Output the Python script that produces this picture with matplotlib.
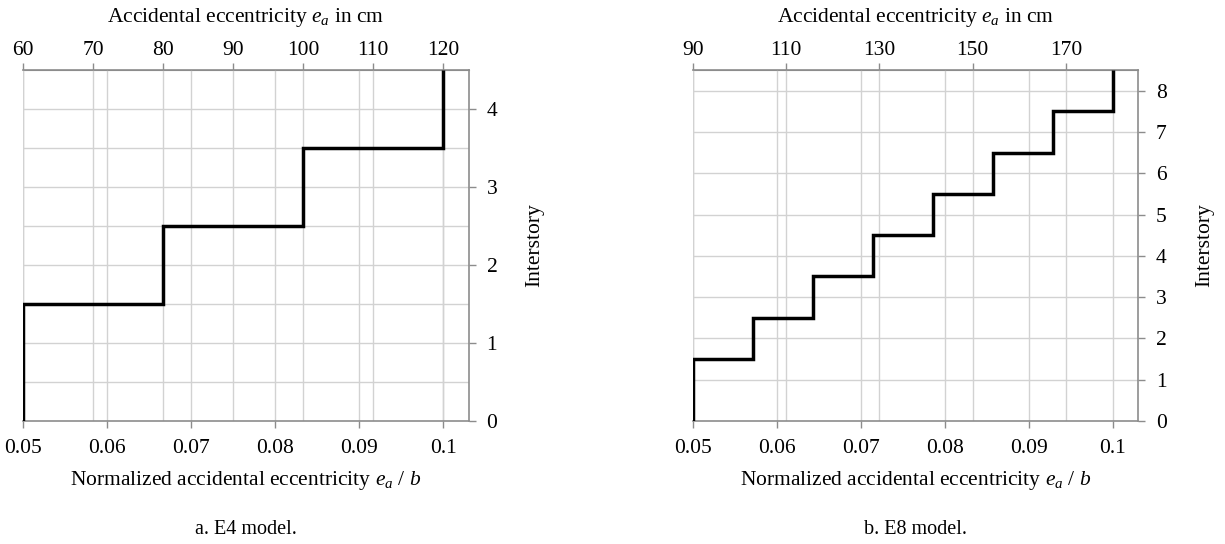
import numpy as np
import matplotlib.pyplot as plt
from matplotlib.ticker import MultipleLocator, FuncFormatter

plt.rcParams['font.family'] = ['Liberation Serif', 'DejaVu Serif']
plt.rcParams['mathtext.fontset'] = 'custom'
plt.rcParams['mathtext.rm'] = 'Liberation Serif'
plt.rcParams['mathtext.it'] = 'Liberation Serif:italic'

# ======================================================
# data: accidental eccentricity per interstory (cm)
# ======================================================
b_e4 = 1200.0   # plan dimension, cm
b_e8 = 1800.0
ecc_e4 = np.array([60, 80, 100, 120])
ecc_e8 = np.array([90, 102.9, 115.7, 128.6, 141.4, 154.3, 167.1, 180])

top_ticks_e4 = [60, 70, 80, 90, 100, 110, 120]
top_ticks_e8 = [90, 110, 130, 150, 170]
bottom_ticks = [0.05, 0.06, 0.07, 0.08, 0.09, 0.1]
captions = ["a. E4 model.", "b. E8 model."]

FS = 15.5
SPINE = '#8c8c8c'
GRID = '#d2d2d2'

fig = plt.figure(figsize=(12.25, 5.44), dpi=100)
ax1 = fig.add_axes([0.019, 0.2261, 0.3635, 0.6452])
ax2 = fig.add_axes([0.5655, 0.2261, 0.3635, 0.6452])


def panel(ax, ecc, b, top_ticks, half_grid, caption):
    n = len(ecc)
    edges = np.concatenate([[0], np.arange(1, n + 1) + 0.5])
    ax.stairs(ecc / b, edges, orientation='horizontal', baseline=None,
              color='black', linewidth=2.5, zorder=3)

    ax.set_xlim(0.05, 0.103)
    ax.set_ylim(0, n + 0.5)

    # grid from bottom ticks, top ticks and y ticks
    for v in bottom_ticks:
        ax.axvline(v, color=GRID, lw=1, zorder=1)
    for c in top_ticks:
        ax.axvline(c / b, color=GRID, lw=1, zorder=1)
    ystep = 0.5 if half_grid else 1
    for yv in np.arange(ystep, n + 0.5, ystep):
        ax.axhline(yv, color=GRID, lw=1, zorder=1)

    ax.set_xticks(bottom_ticks)
    ax.xaxis.set_major_formatter(FuncFormatter(lambda v, p: '%g' % v))
    ax.yaxis.tick_right()
    ax.yaxis.set_label_position('right')
    ax.yaxis.set_major_locator(MultipleLocator(1))
    ax.tick_params(axis='both', labelsize=FS, color=SPINE, length=5,
                   width=1, direction='out')
    ax.tick_params(axis='x', pad=8)
    ax.tick_params(axis='y', pad=8)
    ax.spines['left'].set_visible(False)
    for s in ['right', 'top', 'bottom']:
        ax.spines[s].set_color(SPINE)
        ax.spines[s].set_linewidth(1.2)

    ax.set_xlabel('Normalized accidental eccentricity $e_a$ / $b$',
                  fontsize=FS, labelpad=8)
    ax.set_ylabel('Interstory', fontsize=FS, labelpad=20)

    sec = ax.secondary_xaxis('top', functions=(lambda x: x * b,
                                               lambda c: c / b))
    sec.set_xticks(top_ticks)
    sec.tick_params(labelsize=FS, color=SPINE, length=5, width=1, pad=2)
    sec.spines['top'].set_color(SPINE)
    sec.set_xlabel('Accidental eccentricity $e_a$ in cm', fontsize=FS,
                   labelpad=14)

    pos = ax.get_position()
    fig.text(pos.x0 + pos.width / 2, 0.026, caption, ha='center',
             va='center', fontsize=14.5)


panel(ax1, ecc_e4, b_e4, top_ticks_e4, True, captions[0])
panel(ax2, ecc_e8, b_e8, top_ticks_e8, False, captions[1])

fig.savefig('out.png', dpi=100)
